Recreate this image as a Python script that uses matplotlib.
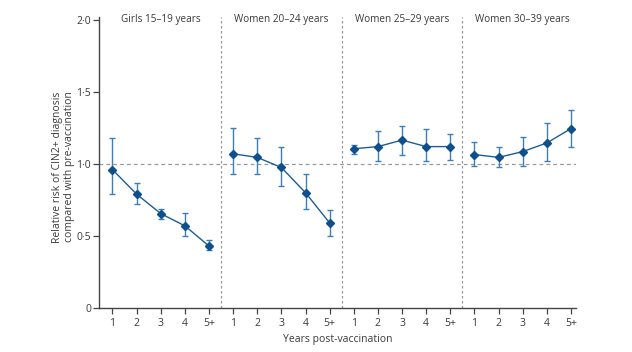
import numpy as np
import matplotlib.pyplot as plt

plt.rcParams['font.family'] = ['Open Sans', 'DejaVu Sans']

# age groups and years post-vaccination
groups = ['Girls 15–19 years', 'Women 20–24 years', 'Women 25–29 years', 'Women 30–39 years']
years = ['1', '2', '3', '4', '5+']

# relative risk with 95% CI, per group
rr_15_19 = [0.96, 0.79, 0.655, 0.57, 0.43]
lo_15_19 = [0.79, 0.72, 0.62, 0.50, 0.40]
hi_15_19 = [1.18, 0.87, 0.69, 0.66, 0.47]

rr_20_24 = [1.07, 1.045, 0.975, 0.80, 0.59]
lo_20_24 = [0.93, 0.93, 0.85, 0.69, 0.50]
hi_20_24 = [1.25, 1.18, 1.12, 0.93, 0.68]

rr_25_29 = [1.105, 1.12, 1.165, 1.12, 1.12]
lo_25_29 = [1.07, 1.02, 1.065, 1.02, 1.03]
hi_25_29 = [1.13, 1.225, 1.26, 1.245, 1.21]

rr_30_39 = [1.065, 1.045, 1.085, 1.145, 1.245]
lo_30_39 = [0.985, 0.975, 0.985, 1.02, 1.12]
hi_30_39 = [1.155, 1.12, 1.19, 1.285, 1.375]

rr_all = [rr_15_19, rr_20_24, rr_25_29, rr_30_39]
lo_all = [lo_15_19, lo_20_24, lo_25_29, lo_30_39]
hi_all = [hi_15_19, hi_20_24, hi_25_29, hi_30_39]

line_col = '#1d5d96'
err_col = '#3f7db3'
grey = '#999999'
txt = '#3a3a3a'

fig = plt.figure(figsize=(6.32, 3.52), dpi=100)
ax = fig.add_axes([0.157, 0.125, 0.754, 0.827])

n = len(years)
for g in range(len(groups)):
    x = np.arange(n) + g * n
    rr = np.array(rr_all[g])
    lo = np.array(lo_all[g])
    hi = np.array(hi_all[g])
    ax.errorbar(x, rr, yerr=[rr - lo, hi - rr], fmt='none', ecolor=err_col,
                elinewidth=1.0, capsize=2.2, capthick=1.0, zorder=2)
    ax.plot(x, rr, '-', color=line_col, lw=1.0, zorder=3)
    ax.plot(x, rr, 'D', color='#0f4f8c', ms=4.5, zorder=4)
    ax.text(g * n + (n - 1) / 2, 2.0, groups[g], ha='center', va='center',
            fontsize=7.2, color=txt)
    if g > 0:
        ax.axvline(g * n - 0.5, color=grey, lw=0.9, ls=(0, (2, 2)), zorder=1)

ax.axhline(1.0, color=grey, lw=0.9, ls=(0, (3, 2.5)), zorder=1)

ax.set_xlim(-0.55, len(groups) * n - 0.8)
ax.set_ylim(0, 2.02)
ax.set_xticks(np.arange(len(groups) * n))
ax.set_xticklabels(years * len(groups))
ax.set_yticks([0, 0.5, 1.0, 1.5, 2.0])
ax.set_yticklabels(['0', '0·5', '1·0', '1·5', '2·0'])

for s in ['top', 'right']:
    ax.spines[s].set_visible(False)
for s in ['left', 'bottom']:
    ax.spines[s].set_color('#444444')
    ax.spines[s].set_linewidth(1.0)
ax.tick_params(axis='both', length=4, width=0.9, color='#444444',
               labelsize=7.5, labelcolor=txt)
ax.tick_params(axis='y', pad=2)
ax.tick_params(axis='x', pad=3)

ax.set_xlabel('Years post-vaccination', fontsize=7.5, color=txt, labelpad=4)
ax.set_ylabel('Relative risk of CIN2+ diagnosis\ncompared with pre-vaccination',
              fontsize=7.5, color=txt)
ax.yaxis.set_label_coords(-0.05, 0.485)

fig.savefig('out.png', dpi=100)
